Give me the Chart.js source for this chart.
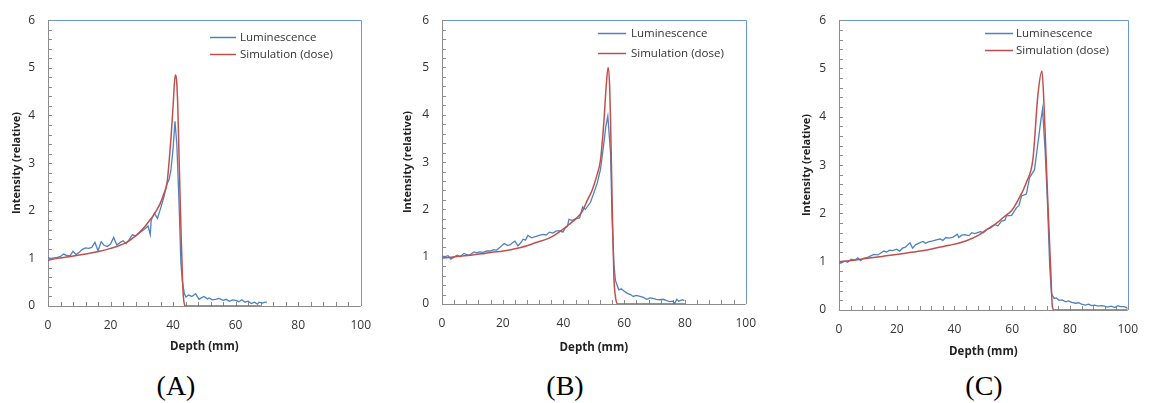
<!DOCTYPE html>
<html><head><meta charset="utf-8">
<script src="https://cdn.jsdelivr.net/npm/chart.js@4.4.0/dist/chart.umd.min.js"></script>
<style>
html,body{margin:0;padding:0;background:#fff;width:1150px;height:403px;overflow:hidden;}
.panel{position:absolute;top:0;}
.cap{position:absolute;top:370px;font-family:"Liberation Serif","Times New Roman",serif;font-size:28px;line-height:32px;color:#000;transform:translateX(-50%);white-space:nowrap;}
</style></head><body>
<div class="panel" style="left:0px"><canvas id="cA" width="383" height="365"></canvas></div>
<div class="panel" style="left:385px"><canvas id="cB" width="383" height="365"></canvas></div>
<div class="panel" style="left:770px"><canvas id="cC" width="380" height="365"></canvas></div>
<div class="cap" id="capA" style="left:176px"></div>
<div class="cap" id="capB" style="left:565px"></div>
<div class="cap" id="capC" style="left:984px"></div>
<script>
// ---------- DATA ----------
const seriesNames = ['Luminescence', 'Simulation (dose)'];
const panelLabels = ['(A)', '(B)', '(C)'];
const axisTitleX = 'Depth (mm)';
const axisTitleY = 'Intensity (relative)';

// Panel A
const lumDepthA = [0,1,2,3,4,5,6,7,8,9,10,11,12,13,14,15,16,17,18,19,20,21,22,23,24,25,26,27,28,29,30,31,32,32.7,33,34,35,36,37,38,38.7,39.3,40,40.6,41.2,41.9,42.5,43,43.6,44.1,45,46,47.2,48.3,49,49.9,51,51.5,52.5,53.5,54.7,56,57,58,59,60,61,62,63,64,65,66,67,67.5,68.5,69.5,70];
const lumA = [1.01,1.00,1.01,1.02,1.04,1.09,1.06,1.05,1.15,1.08,1.13,1.19,1.22,1.21,1.23,1.34,1.16,1.35,1.27,1.25,1.30,1.44,1.28,1.33,1.37,1.31,1.40,1.50,1.47,1.52,1.57,1.62,1.68,1.50,1.80,1.95,1.84,2.05,2.27,2.55,2.65,2.85,3.30,3.88,3.40,2.17,0.90,0.50,0.26,0.19,0.23,0.20,0.26,0.14,0.17,0.20,0.15,0.17,0.13,0.14,0.16,0.12,0.14,0.10,0.13,0.12,0.09,0.13,0.08,0.10,0.05,0.08,0.04,0.08,0.06,0.08,0.08];
const simDepthA = [0,3,6,11,16.5,20,22,25,27,29,31,33,34,35.5,36,37,38.1,38.75,39.3,40,40.7,41.1,41.5,42,42.6,43,43.3,43.7,44,68];
const simA = [0.96,1.00,1.03,1.08,1.15,1.21,1.25,1.33,1.42,1.53,1.67,1.84,1.93,2.10,2.17,2.35,2.60,3.05,3.50,4.20,4.85,4.75,4.20,2.90,1.42,0.60,0.19,0.02,0,0];

// Panel B
const lumDepthB = [0,1,2,2.9,4,5,6,7.2,8,9,10.5,11.5,12.5,13.5,14.8,16,17,18,19.1,20.5,21.5,22.4,23.3,24,25,26,26.7,27.5,28.3,29.5,31,32,33.2,34.3,35.4,36.5,37.5,38.6,39.8,40.5,41.3,41.8,42.8,44,45.3,46.3,47.2,48.9,50,51.1,52.2,53.3,53.9,54.6,55.5,56,56.6,57.1,58.2,59,59.8,60.9,62,63,64,65.2,66.3,67.4,68.5,69.5,70.6,71.7,72.8,74,75,76,76.6,77.3,78,79.2,79.8];
const lumB = [1.01,1.00,1.02,0.95,0.99,1.03,1.00,1.07,1.05,1.03,1.10,1.08,1.10,1.09,1.12,1.12,1.15,1.14,1.20,1.28,1.24,1.25,1.30,1.33,1.23,1.30,1.37,1.35,1.45,1.40,1.43,1.45,1.47,1.46,1.52,1.50,1.54,1.55,1.52,1.60,1.64,1.79,1.77,1.80,1.82,2.05,2.00,2.15,2.35,2.55,2.85,3.40,3.74,3.97,3.19,1.81,0.85,0.50,0.30,0.32,0.28,0.23,0.20,0.16,0.18,0.16,0.14,0.10,0.13,0.12,0.10,0.09,0.10,0.07,0.05,0.06,0.01,0.10,0.06,0.09,0.07];
const simDepthB = [0,3,6,9.4,13,16,20.2,25.6,28,31,34,36.4,39,41.8,44,46.2,47.9,49.4,51,52.2,53.3,54,54.7,55.2,55.5,56,56.6,57.1,57.8,80];
const simB = [0.97,0.99,1.01,1.03,1.06,1.09,1.12,1.19,1.23,1.30,1.36,1.43,1.54,1.68,1.80,1.96,2.20,2.40,2.72,3.05,3.85,4.55,5.00,4.60,3.88,2.23,0.57,0.16,0,0];

// Panel C
const lumDepthC = [0,1,2,3,4.2,5.5,6.5,7.5,8.5,9.9,11,12.1,13.5,14.5,15.5,16.5,17.5,18.5,20,21,22,23,24.6,25.5,26.5,27.5,29.1,30,31,32.5,33.7,35,36,37,38.2,39.5,41,41.5,42.5,43.5,45,46,47,48,49,50,51.5,52.5,54,55,56.3,57.5,58,59.8,61.5,62.3,63.2,64.9,66,67.7,68.9,69.9,70.5,71.4,72.2,73,73.6,74.5,75.3,76.2,77.3,78.5,79.5,80.6,81.9,83,84,85.3,86.5,87.5,88.6,89.7,91,92,93,94.3,95.5,96.6,97.5,98.8,99.5,100];
const lumC = [0.96,0.98,1.01,0.99,1.05,1.03,1.08,1.02,1.07,1.09,1.12,1.15,1.14,1.18,1.22,1.20,1.24,1.23,1.26,1.22,1.28,1.30,1.39,1.28,1.35,1.38,1.42,1.38,1.41,1.43,1.45,1.47,1.44,1.50,1.49,1.51,1.57,1.50,1.55,1.56,1.54,1.60,1.58,1.60,1.62,1.60,1.68,1.70,1.77,1.74,1.84,1.86,1.95,1.96,2.12,2.16,2.36,2.40,2.74,2.90,3.45,3.92,4.16,3.30,2.23,0.88,0.34,0.24,0.25,0.20,0.21,0.17,0.19,0.16,0.14,0.15,0.12,0.10,0.12,0.09,0.10,0.08,0.09,0.08,0.06,0.08,0.05,0.09,0.07,0.07,0.05,0.03];
const simDepthC = [0,5,9.9,15,21.2,27,32.5,38.2,43.9,48.4,51.8,54.6,57,59.8,61.5,64.9,67.2,68.9,70.3,71.1,72.2,73.4,73.9,74.5,100];
const simC = [1.00,1.03,1.07,1.11,1.16,1.21,1.27,1.34,1.43,1.55,1.69,1.80,1.92,2.06,2.22,2.64,3.14,4.46,4.95,4.12,2.43,0.74,0.07,0,0];

// ---------- LAYOUT / STYLE ----------
const panels = [
  {id:'cA', cap:'capA', label:panelLabels[0], lumX:lumDepthA, lumY:lumA, simX:simDepthA, simY:simA,
   W:383, H:365, area:{left:48,right:362,top:13,bottom:306}, yTitlePad:10, xTitlePad:11,
   legend:{lx0:162,lx1:188,tx:192,ly:[17,34]}},
  {id:'cB', cap:'capB', label:panelLabels[1], lumX:lumDepthB, lumY:lumB, simX:simDepthB, simY:simB,
   W:383, H:365, area:{left:57,right:366,top:14,bottom:304}, yTitlePad:16, xTitlePad:10,
   legend:{lx0:156,lx1:184,tx:189,ly:[13,33]}},
  {id:'cC', cap:'capC', label:panelLabels[2], lumX:lumDepthC, lumY:lumC, simX:simDepthC, simY:simC,
   W:380, H:365, area:{left:69,right:363,top:14,bottom:310}, yTitlePad:30, xTitlePad:6,
   legend:{lx0:146,lx1:174,tx:177,ly:[13,30]}}
];
const BLUE = '#4f81bd', RED = '#c0504d', AXIS = '#8c8c8c', FRAME = '#6a97cf', TXT = '#333333';
const FONT = '"Open Sans", "Noto Sans", sans-serif';

const framePlugin = {
  id: 'frame',
  beforeDatasetsDraw(chart) {
    const {ctx, chartArea: a, scales: {x, y}} = chart;
    ctx.save();
    ctx.lineWidth = 1;
    ctx.strokeStyle = FRAME;
    ctx.beginPath();
    ctx.moveTo(a.left, Math.round(a.top) + 0.5);
    ctx.lineTo(Math.round(a.right) + 0.5, Math.round(a.top) + 0.5);
    ctx.lineTo(Math.round(a.right) + 0.5, a.bottom);
    ctx.stroke();
    ctx.strokeStyle = AXIS;
    ctx.beginPath();
    ctx.moveTo(Math.round(a.left) + 0.5, a.top);
    ctx.lineTo(Math.round(a.left) + 0.5, Math.round(a.bottom) + 0.5);
    ctx.lineTo(a.right, Math.round(a.bottom) + 0.5);
    for (let k = 0; k <= 25; k++) {
      const px = Math.round(x.getPixelForValue(x.min + k * (x.max - x.min) / 25)) + 0.5;
      ctx.moveTo(px, a.bottom); ctx.lineTo(px, a.bottom - 4);
    }
    for (let k = 0; k <= 30; k++) {
      const py = Math.round(y.getPixelForValue(y.min + k * (y.max - y.min) / 30)) + 0.5;
      ctx.moveTo(a.left, py); ctx.lineTo(a.left + 4, py);
    }
    ctx.stroke();
    ctx.restore();
  },
  afterDraw(chart, args, opts) {
    const {ctx, chartArea: a} = chart;
    const L = opts.legend;
    ctx.save();
    ctx.font = '11.5px ' + FONT;
    ctx.textBaseline = 'middle';
    ctx.textAlign = 'left';
    [0, 1].forEach((i) => {
      const ds = chart.data.datasets[i];
      const yy = Math.round(a.top + L.ly[i]) + 0.5;
      ctx.strokeStyle = ds.borderColor;
      ctx.lineWidth = 1.5;
      ctx.beginPath(); ctx.moveTo(a.left + L.lx0, yy); ctx.lineTo(a.left + L.lx1, yy); ctx.stroke();
      ctx.fillStyle = TXT;
      ctx.fillText(ds.label, a.left + L.tx, yy);
    });
    ctx.restore();
  }
};

panels.forEach((p) => {
  document.getElementById(p.cap).textContent = p.label;
  const lumPts = p.lumX.map((d, i) => ({x: d, y: p.lumY[i]}));
  const simPts = p.simX.map((d, i) => ({x: d, y: p.simY[i]}));
  new Chart(document.getElementById(p.id), {
    type: 'scatter',
    data: {
      datasets: [
        {label: seriesNames[0], data: lumPts, showLine: true, borderColor: BLUE, borderWidth: 1.3,
         pointRadius: 0, tension: 0, order: 1},
        {label: seriesNames[1], data: simPts, showLine: true, borderColor: RED, borderWidth: 1.5,
         pointRadius: 0, cubicInterpolationMode: 'monotone', order: 0}
      ]
    },
    options: {
      responsive: false,
      animation: false,
      devicePixelRatio: 1,
      layout: {padding: {left: 0, top: p.area.top, right: p.W - p.area.right, bottom: 0}},
      plugins: {legend: {display: false}, tooltip: {enabled: false}, frame: {legend: p.legend}},
      scales: {
        x: {
          type: 'linear', min: 0, max: 100,
          grid: {display: false, drawTicks: false}, border: {display: false},
          ticks: {stepSize: 20, maxRotation: 0, padding: 12, color: TXT, font: {family: FONT, size: 12}},
          title: {display: true, text: axisTitleX, color: '#222', font: {family: FONT, size: 11.5, weight: 'bold', lineHeight: 1.2},
                  padding: {top: 0, bottom: p.xTitlePad}},
          afterFit(s) { s.height = p.H - p.area.bottom; }
        },
        y: {
          type: 'linear', min: 0, max: 6,
          grid: {display: false, drawTicks: false}, border: {display: false},
          ticks: {stepSize: 1, padding: 13, color: TXT, font: {family: FONT, size: 12}},
          title: {display: true, text: axisTitleY, color: '#222', font: {family: FONT, size: 11, weight: 'bold', lineHeight: 1.2},
                  padding: {top: p.yTitlePad, bottom: 0}},
          afterFit(s) { s.width = p.area.left; }
        }
      }
    },
    plugins: [framePlugin]
  });
});
</script>
</body></html>
